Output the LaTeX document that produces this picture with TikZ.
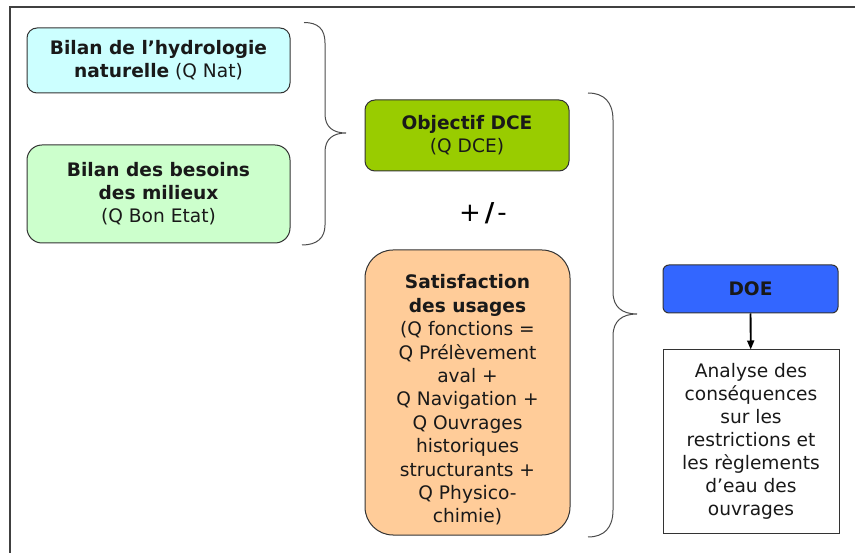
\documentclass[tikz,border=0pt]{standalone}
\usepackage{fontspec}
\setmainfont{DejaVu Sans}
\usetikzlibrary{arrows.meta}
\definecolor{natc}{RGB}{204,255,255}
\definecolor{besc}{RGB}{204,255,204}
\definecolor{dcec}{RGB}{153,204,0}
\definecolor{usac}{RGB}{255,204,153}
\definecolor{doec}{RGB}{51,102,255}
\begin{document}
\begin{tikzpicture}[x=1pt,y=-1pt,
  boxbase/.style={draw=black!80, line width=1pt, align=center, inner sep=0pt,
    font=\fontsize{18.6}{23}\selectfont, text=black!90},
  bracestyle/.style={draw=black!70, line width=1pt},
  txt/.style={align=center, inner sep=0pt, font=\fontsize{18.6}{23.4}\selectfont, text=black!90}
]
\useasboundingbox (0,0) rectangle (855,553);
\draw[line width=2pt, black!75] (855,7) -- (9.5,7) -- (9.5,553);

\node[boxbase, fill=natc, rounded corners=10pt, minimum width=263pt, minimum height=65pt]
  (nat) at (158.5,60.5) {\textbf{Bilan de l’hydrologie}\\\textbf{naturelle} (Q Nat)};
\node[boxbase, fill=besc, rounded corners=15pt, minimum width=263pt, minimum height=98pt]
  (bes) at (158.5,194) {\textbf{Bilan des besoins}\\\textbf{des milieux}\\(Q Bon Etat)};
\node[boxbase, fill=dcec, rounded corners=10pt, minimum width=204pt, minimum height=71pt]
  (dce) at (467,135.5) {\textbf{Objectif DCE}\\(Q DCE)};
\node[inner sep=0pt, font=\fontsize{26}{26}\selectfont] (pm) at (483,213) {+\kern4pt\textbf{/}\kern3pt-};
\node[boxbase, fill=usac, rounded corners=28pt, minimum width=205pt, minimum height=285pt]
  (usa) at (467.5,392.5) {};
\node[txt] (usatxt) at (467.5,400) {\textbf{Satisfaction}\\\textbf{des usages}\\(Q fonctions =\\Q Prélèvement\\aval +\\Q Navigation +\\Q Ouvrages\\historiques\\structurants +\\Q Physico-\\chimie)};
\node[boxbase, fill=doec, rounded corners=6pt, minimum width=175pt, minimum height=48pt]
  (doe) at (750.5,289) {\textbf{DOE}};
\node[boxbase, fill=white, minimum width=176pt, minimum height=183pt]
  (ana) at (751,441.5) {Analyse des\\conséquences\\sur les\\restrictions et\\les règlements\\d’eau des\\ouvrages};
\draw[line width=1.8pt, -{Triangle[length=9pt,width=7pt]}] (doe) -- (ana);

\draw[bracestyle] (304,22.5) .. controls (318,22.5) and (325,29) .. (325,43) -- (325,114)
  .. controls (325,127) and (333,133) .. (346,133)
  .. controls (333,133) and (325,139) .. (325,152) -- (325,225)
  .. controls (325,238) and (317,245) .. (302,245);
\draw[bracestyle] (588,93) .. controls (604,93) and (613,102) .. (613,120) -- (613,292)
  .. controls (613,307) and (622,314) .. (637,314)
  .. controls (622,314) and (613,321) .. (613,336) -- (613,510)
  .. controls (613,528) and (604,537) .. (588,537);
\end{tikzpicture}
\end{document}
